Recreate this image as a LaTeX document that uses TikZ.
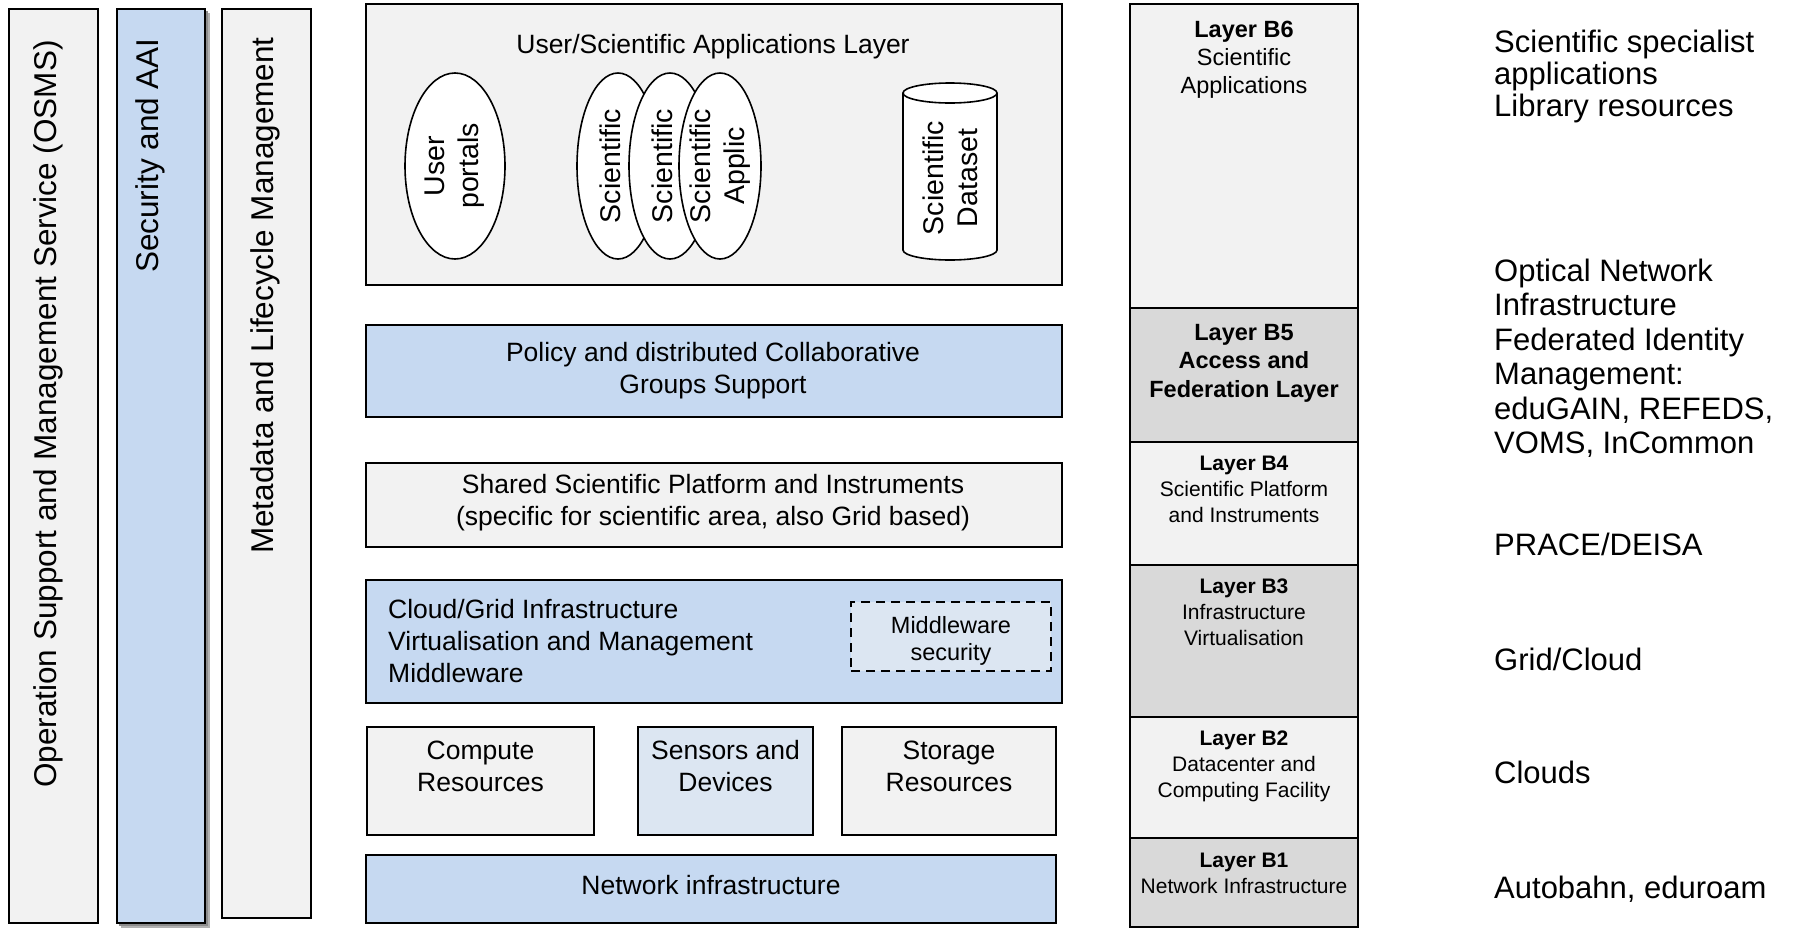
\documentclass[tikz,border=0pt]{standalone}
\usepackage{fontspec}
\setmainfont{Liberation Sans}
\usetikzlibrary{shapes.geometric,fit}
\definecolor{lgray}{HTML}{F2F2F2}
\definecolor{mgray}{HTML}{D9D9D9}
\definecolor{bblue}{HTML}{C6D9F1}
\definecolor{lblue}{HTML}{DCE6F2}
\begin{document}
\begin{tikzpicture}[x=1pt,y=-1pt,
  bx/.style={draw=black, line width=2.6pt, inner sep=0pt},
  ell/.style={ellipse, draw=black, line width=1.6pt, fill=white, inner sep=0pt},
  vtxt/.style={font=\fontsize{31.5}{38}\selectfont, rotate=90, anchor=east, inner sep=0pt},
  etxt/.style={font=\fontsize{28.5}{34}\selectfont, rotate=90, align=center, inner sep=0pt},
  mtxt/.style={font=\fontsize{26.5}{32}\selectfont, anchor=base, inner sep=0pt},
  mwtxt/.style={font=\fontsize{23.5}{27}\selectfont, anchor=base, inner sep=0pt},
  rhb/.style={font=\fontsize{23.5}{28}\selectfont\bfseries, anchor=base, inner sep=0pt},
  rhr/.style={font=\fontsize{23.5}{28}\selectfont, anchor=base, inner sep=0pt},
  rsb/.style={font=\fontsize{21}{26}\selectfont\bfseries, anchor=base, inner sep=0pt},
  rsr/.style={font=\fontsize{21}{26}\selectfont, anchor=base, inner sep=0pt},
  rtxt/.style={font=\fontsize{31}{36}\selectfont, anchor=base west, inner sep=0pt}]
\useasboundingbox (0,0) rectangle (1796,929);
\fill[white] (0,0) rectangle (1796,929);

% ---- left vertical bars ----
\node (osms) [bx, fill=lgray, fit={(9,9) (98,923)}] {};
\fill[black!30] (121,13) rectangle (210,928);
\fill[black!45] (119,11) rectangle (208,926);
\node (sec) [bx, fill=bblue, fit={(117,9) (205,923)}] {};
\node (meta) [bx, fill=lgray, fit={(222,9) (311,918)}] {};
\node (osmsT) [vtxt] at (48,40) {Operation Support and Management Service (OSMS)};
\node (secT) [vtxt] at (150,38) {Security and AAI};
\node (metaT) [vtxt] at (265,37) {Metadata and Lifecycle Management};

% ---- middle column ----
\node (apps) [bx, fill=lgray, fit={(366,4) (1062,285)}] {};
\node (appsT) [mtxt] at (713,53) {User/Scientific Applications Layer};
\node (up) [ell, minimum width=100pt, minimum height=186pt] at (455,166) {};
\node (sa1) [ell, minimum width=82pt, minimum height=186pt] at (618,166) {};
\node (sa2) [ell, minimum width=82pt, minimum height=186pt] at (670,166) {};
\node (sa3) [ell, minimum width=82pt, minimum height=186pt] at (720,166) {};
\node (upT) [etxt] at (455,166) {User\\portals};
\node (sa1T) [etxt] at (610,166) {Scientific};
\node (sa2T) [etxt] at (662,166) {Scientific};
\node (sa3T) [etxt] at (720,166) {Scientific\\Applic};
% cylinder
\fill[white] (903,93) rectangle (997,250);
\fill[white] (950,250) ellipse [x radius=47, y radius=10];
\begin{scope}
  \clip (895,250) rectangle (1005,266);
  \draw[line width=1.6pt] (950,250) ellipse [x radius=47, y radius=10];
\end{scope}
\draw[line width=1.6pt] (903,93) -- (903,250) (997,93) -- (997,250);
\filldraw[line width=1.6pt, fill=white] (950,93) ellipse [x radius=47, y radius=10];
\node (dsT) [etxt] at (950,178) {Scientific\\Dataset};

\node (policy) [bx, fill=bblue, fit={(366,325) (1062,417)}] {};
\node (policyT1) [mtxt] at (713,361) {Policy and distributed Collaborative};
\node (policyT2) [mtxt] at (713,393) {Groups Support};

\node (shared) [bx, fill=lgray, fit={(366,463) (1062,547)}] {};
\node (sharedT1) [mtxt] at (713,493) {Shared Scientific Platform and Instruments};
\node (sharedT2) [mtxt] at (713,525) {(specific for scientific area, also Grid based)};

\node (cloud) [bx, fill=bblue, fit={(366,580) (1062,703)}] {};
\node (cloudT1) [mtxt, anchor=base west] at (388,618) {Cloud/Grid Infrastructure};
\node (cloudT2) [mtxt, anchor=base west] at (388,650) {Virtualisation and Management};
\node (cloudT3) [mtxt, anchor=base west] at (388,682) {Middleware};
\node (mws) [draw=black, line width=2.2pt, dash pattern=on 9pt off 6pt, fill=lblue, inner sep=0pt, fit={(851,602) (1051,671)}] {};
\node (mwsT1) [mwtxt] at (951,633) {Middleware};
\node (mwsT2) [mwtxt] at (951,660) {security};

\node (compute) [bx, fill=lgray, fit={(367,727) (594,835)}] {};
\node (computeT1) [mtxt] at (480.5,759) {Compute};
\node (computeT2) [mtxt] at (480.5,791) {Resources};
\node (sensors) [bx, fill=lblue, fit={(638,727) (813,835)}] {};
\node (sensorsT1) [mtxt] at (725.5,759) {Sensors and};
\node (sensorsT2) [mtxt] at (725.5,791) {Devices};
\node (storage) [bx, fill=lgray, fit={(842,727) (1056,835)}] {};
\node (storageT1) [mtxt] at (949,759) {Storage};
\node (storageT2) [mtxt] at (949,791) {Resources};

\node (net) [bx, fill=bblue, fit={(366,855) (1056,923)}] {};
\node (netT) [mtxt] at (711,894) {Network infrastructure};

% ---- right layer column ----
\node (b6) [bx, fill=lgray, fit={(1130,4) (1358,308)}] {};
\node (b5) [bx, fill=mgray, fit={(1130,308) (1358,442)}] {};
\node (b4) [bx, fill=lgray, fit={(1130,442) (1358,565)}] {};
\node (b3) [bx, fill=mgray, fit={(1130,565) (1358,717)}] {};
\node (b2) [bx, fill=lgray, fit={(1130,717) (1358,838)}] {};
\node (b1) [bx, fill=mgray, fit={(1130,838) (1358,927)}] {};

\node (b6T1) [rhb] at (1244,37) {Layer B6};
\node (b6T2) [rhr] at (1244,65) {Scientific};
\node (b6T3) [rhr] at (1244,93) {Applications};
\node (b5T1) [rhb] at (1244,340) {Layer B5};
\node (b5T2) [rhb] at (1244,368) {Access and};
\node (b5T3) [rhb] at (1244,397) {Federation Layer};
\node (b4T1) [rsb] at (1244,470) {Layer B4};
\node (b4T2) [rsr] at (1244,496) {Scientific Platform};
\node (b4T3) [rsr] at (1244,522) {and Instruments};
\node (b3T1) [rsb] at (1244,593) {Layer B3};
\node (b3T2) [rsr] at (1244,619) {Infrastructure};
\node (b3T3) [rsr] at (1244,645) {Virtualisation};
\node (b2T1) [rsb] at (1244,745) {Layer B2};
\node (b2T2) [rsr] at (1244,771) {Datacenter and};
\node (b2T3) [rsr] at (1244,797) {Computing Facility};
\node (b1T1) [rsb] at (1244,867) {Layer B1};
\node (b1T2) [rsr] at (1244,893) {Network Infrastructure};

% ---- right-hand notes ----
\foreach \t/\yy [count=\i] in {{Scientific specialist}/52, {applications}/84, {Library resources}/116,
  {Optical Network}/281, {Infrastructure}/315.5, {Federated Identity}/350, {Management:}/384.5,
  {eduGAIN, REFEDS,}/419, {VOMS, InCommon}/453.5, {PRACE/DEISA}/555, {Grid/Cloud}/670,
  {Clouds}/783, {Autobahn, eduroam}/898}
  \node (note\i) [rtxt] at (1494,\yy) {\t};
\end{tikzpicture}
\end{document}
